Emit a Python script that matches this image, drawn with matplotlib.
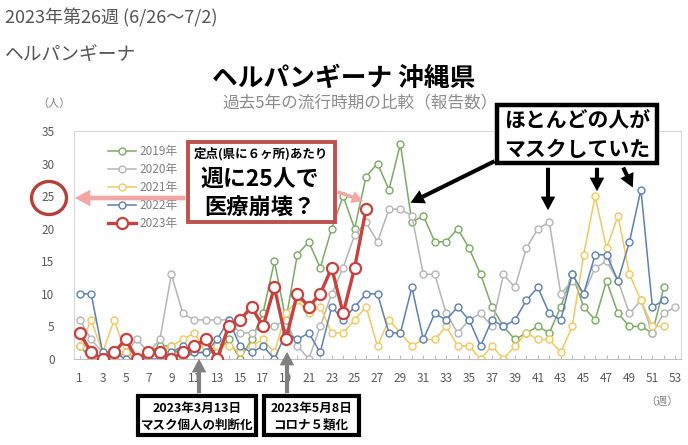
import numpy as np
import matplotlib
matplotlib.use("Agg")
import matplotlib.pyplot as plt
from matplotlib.patches import Rectangle, Ellipse, FancyArrowPatch

plt.rcParams['font.family'] = ['Noto Sans CJK JP', 'DejaVu Sans']

# weekly reports per sentinel, Okinawa
weeks = np.arange(1, 54)
y2019 = [2, 0, 0, 0, 1, 0, 1, 2, 2, 0, 1, 1, 1, 3, 0, 3, 7, 15, 6, 16, 18, 14, 20, 25, 20, 28,
         30, 26, 33, 21, 22, 18, 18, 20, 17, 13, 8, 5, 3, 4, 5, 4, 8, 13, 8, 6, 12, 7, 5, 5, 4, 11]
y2020 = [6, 3, 1, 0, 1, 3, 1, 3, 13, 7, 6, 6, 6, 6, 4, 4, 5, 5, 6, 2, 0, 5, 10, 14, 19, 21,
         18, 23, 23, 22, 13, 13, 7, 4, 6, 7, 5, 13, 11, 17, 20, 21, 10, 12, 10, 14, 15, 12, 7, 9,
         4, 7, 8]
y2021 = [2, 6, 1, 6, 1, 0, 1, 1, 2, 3, 4, 1, 2, 2, 1, 2, 3, 1, 7, 9, 7, 8, 4, 4, 6, 8,
         2, 6, 4, 2, 3, 3, 5, 2, 2, 0, 2, 0, 2, 4, 3, 3, 1, 5, 16, 25, 17, 22, 13, 9, 5, 5]
y2022 = [10, 10, 1, 1, 0, 0, 0, 0, 1, 2, 1, 1, 3, 6, 2, 1, 2, 0, 4, 3, 4, 1, 8, 6, 8, 10,
         10, 4, 4, 11, 3, 7, 6, 8, 6, 2, 6, 5, 6, 9, 11, 7, 6, 13, 10, 16, 16, 12, 18, 26, 8, 9]
y2023 = [4, 1, 0, 1, 3, 0, 1, 1, 0, 1, 2, 3, 0, 5, 6, 8, 5, 11, 3, 10, 8, 10, 14, 7, 14, 23]

series = [("2019年", y2019, "#7aab63"), ("2020年", y2020, "#b5b5b5"),
          ("2021年", y2021, "#f3c85e"), ("2022年", y2022, "#5b80b6")]

W, H = 688, 445
GRAY = "#7f7f7f"


def fp(x, y):
    # top-left pixel coords -> figure fraction
    return (x / W, 1 - y / H)


fig = plt.figure(figsize=(W / 100, H / 100), dpi=100)
ax = fig.add_axes([74 / W, 1 - 359 / H, (681 - 74) / W, (359 - 131) / H])

for label, vals, col in series:
    ax.plot(weeks[:len(vals)], vals, color=col, lw=1.1, marker="o", ms=5, mfc="white",
            mec=col, mew=1.0, label=label, zorder=2)
ax.plot(weeks[:len(y2023)], y2023, color="#c9413e", lw=2.4, marker="o", ms=8, mfc="white",
        mec="#c9413e", mew=1.6, label="2023年", zorder=3)

ax.set_xlim(0.5, 53.5)
ax.set_ylim(0, 35)
ax.set_yticks(range(0, 36, 5))
ax.set_xticks(weeks)
ax.set_xticklabels([str(w) if w % 2 == 1 else "" for w in weeks])
ax.tick_params(axis="x", direction="in", length=3, color="#bfbfbf", labelsize=8.5,
               labelcolor="#595959", pad=9)
ax.tick_params(axis="y", length=0, labelsize=8.5, labelcolor="#595959", pad=14)
for s in ax.spines.values():
    s.set_color("#d9d9d9")
ax.spines["bottom"].set_color("#bfbfbf")

fig.legend(loc="upper left", bbox_to_anchor=fp(108, 145), bbox_transform=fig.transFigure,
           frameon=False, fontsize=8.5, labelcolor=GRAY, handlelength=2.4,
           handletextpad=0.3, labelspacing=0.42, borderpad=0, borderaxespad=0)

# headings
fig.text(*fp(5, 18), "2023年第26週 (6/26〜7/2)", fontsize=13, color="#555555", va="center")
fig.text(*fp(5, 55), "ヘルパンギーナ", fontsize=13.5, color="#555555", va="center")
fig.text(*fp(344, 78), "ヘルパンギーナ 沖縄県", fontsize=18.5, fontweight="bold",
         color="black", ha="center", va="center")
fig.text(*fp(222, 103), "過去5年の流行時期の比較（報告数）", fontsize=12, color="#8c8c8c",
         va="center")
fig.text(*fp(54, 104), "（人）", fontsize=8, color=GRAY, ha="center", va="center")
fig.text(*fp(662, 402), "（週）", fontsize=8, color=GRAY, ha="center", va="center")


def box(x0, y0, x1, y1, ec, lw):
    fig.add_artist(Rectangle(fp(x0, y1), (x1 - x0) / W, (y1 - y0) / H,
                             transform=fig.transFigure, fc="white", ec=ec, lw=lw, zorder=5))


def arrow(x0, y0, x1, y1, col, scale=7):
    fig.add_artist(FancyArrowPatch(fp(x0, y0), fp(x1, y1), transform=fig.transFigure,
                                   arrowstyle="simple,head_width=1.5,head_length=1.4,tail_width=0.42",
                                   mutation_scale=scale, color=col, lw=0, zorder=7))


# red box: 25 per sentinel per week
box(188, 142, 335, 222, "#c0504d", 2.8)
fig.text(*fp(261, 154), "定点(県に６ヶ所)あたり", fontsize=9, fontweight="bold",
         ha="center", va="center", zorder=6)
fig.text(*fp(260, 179), "週に25人で", fontsize=16.5, fontweight="bold",
         ha="center", va="center", zorder=6)
fig.text(*fp(260, 208), "医療崩壊？", fontsize=16, fontweight="bold",
         ha="center", va="center", zorder=6)
fig.add_artist(Ellipse(fp(49, 198), 35 / W, 33 / H, transform=fig.transFigure,
                       fill=False, ec="#b5403a", lw=2.4, zorder=6))
arrow(188, 198, 72, 198, "#f2a7a5", 8)
arrow(335, 191, 366, 202, "#f2a7a5", 6)

# black box: masks
box(497, 105, 657, 163, "black", 3.2)
fig.text(*fp(577, 121), "ほとんどの人が", fontsize=15, fontweight="bold",
         ha="center", va="center", zorder=6)
fig.text(*fp(577, 149), "マスクしていた", fontsize=15, fontweight="bold",
         ha="center", va="center", zorder=6)
arrow(497, 160, 408, 204, "black")
arrow(548, 165, 548, 213, "black")
arrow(597, 165, 597, 194, "black")
arrow(622, 165, 634, 190, "black")

# bottom boxes
box(138, 396, 256, 435, "black", 3.0)
fig.text(*fp(197, 408), "2023年3月13日", fontsize=9, fontweight="bold",
         ha="center", va="center", zorder=6)
fig.text(*fp(197, 425), "マスク個人の判断化", fontsize=9, fontweight="bold",
         ha="center", va="center", zorder=6)
box(264, 396, 359, 435, "black", 3.0)
fig.text(*fp(311, 408), "2023年5月8日", fontsize=9, fontweight="bold",
         ha="center", va="center", zorder=6)
fig.text(*fp(311, 425), "コロナ５類化", fontsize=9, fontweight="bold",
         ha="center", va="center", zorder=6)
arrow(199, 396, 199, 356, "#808080")
arrow(287, 396, 287, 349, "#808080")

fig.savefig("out.png", dpi=100)
